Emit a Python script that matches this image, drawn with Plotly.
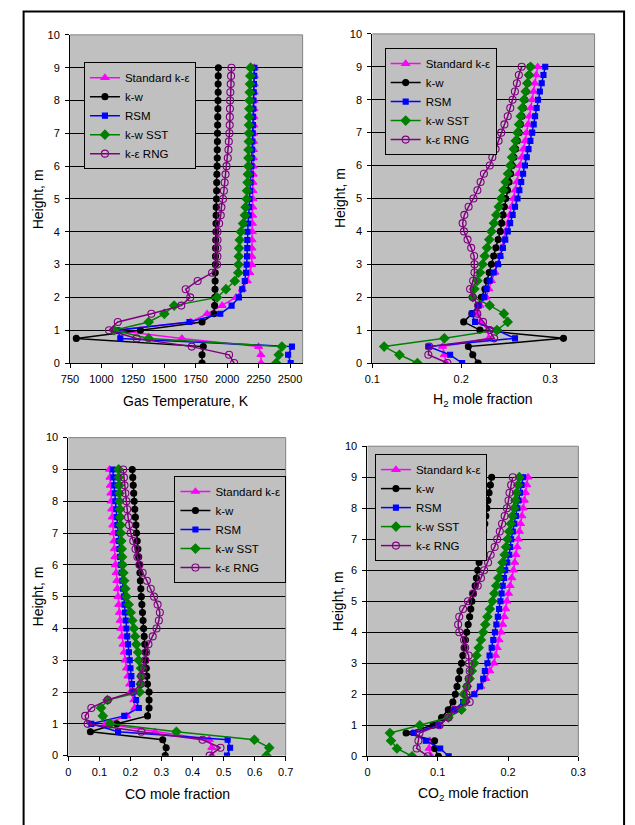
import plotly.graph_objects as go

# ---------------- data ----------------
HEIGHT = [0, 0.25, 0.5, 0.75, 1, 1.25, 1.5, 1.75, 2, 2.25, 2.5, 2.75, 3, 3.25, 3.5, 3.75,
          4, 4.25, 4.5, 4.75, 5, 5.25, 5.5, 5.75, 6, 6.25, 6.5, 6.75, 7, 7.25, 7.5, 7.75,
          8, 8.25, 8.5, 8.75, 9]

SERIES = ["Standard k-\u03b5", "k-w", "RSM", "k-w SST", "k-\u03b5 RNG"]

# Gas temperature, K
T_STD = [2270, 2268, 2250, 1640, 1105, 1710, 1840, 1960, 2070, 2120, 2160, 2180, 2195, 2196, 2197, 2198,
         2200, 2201, 2202, 2203, 2205, 2205, 2206, 2207, 2208, 2208, 2209, 2210, 2210, 2211, 2212, 2213,
         2214, 2215, 2215, 2216, 2216]
T_KW = [1800, 1800, 1810, 800, 1310, 1800, 1895, 1900, 1902, 1903, 1904, 1905, 1906, 1907, 1908, 1909,
        1910, 1911, 1912, 1913, 1915, 1916, 1917, 1918, 1920, 1921, 1921, 1922, 1923, 1924, 1925, 1926,
        1927, 1928, 1928, 1929, 1930]
T_RSM = [2505, 2485, 2515, 1150, 1128, 1700, 1945, 2035, 2093, 2120, 2140, 2150, 2155, 2158, 2160, 2160,
         2161, 2166, 2171, 2175, 2178, 2182, 2186, 2189, 2193, 2195, 2198, 2200, 2203, 2205, 2206, 2208,
         2209, 2211, 2213, 2215, 2217]
T_SST = [2390, 2410, 2435, 1375, 1100, 1375, 1500, 1578, 1920, 1990, 2060, 2088, 2090, 2093, 2095, 2100,
         2108, 2126, 2141, 2147, 2155, 2158, 2162, 2165, 2168, 2169, 2170, 2172, 2173, 2174, 2175, 2177,
         2178, 2180, 2182, 2184, 2186]
T_RNG = [2055, 2015, 1718, 1280, 1060, 1130, 1397, 1635, 1706, 1670, 1765, 1880, 1920, 1922, 1923, 1923,
         1923, 1936, 1949, 1954, 1967, 1974, 1980, 1987, 1995, 2005, 2010, 2013, 2018, 2020, 2021, 2022,
         2023, 2025, 2028, 2031, 2034]

# H2 mole fraction
H_STD = [0.183, 0.181, 0.179, 0.231, 0.230, 0.222, 0.218, 0.221, 0.228, 0.231, 0.234, 0.238, 0.241, 0.2435,
         0.2458, 0.248, 0.250, 0.2525, 0.2548, 0.257, 0.259, 0.2607, 0.2625, 0.2642, 0.266, 0.268, 0.270,
         0.272, 0.2736, 0.2752, 0.2767, 0.2783, 0.2798, 0.2813, 0.2828, 0.2843, 0.286]
H_KW = [0.219, 0.213, 0.208, 0.315, 0.221, 0.2028, 0.212, 0.219, 0.2227, 0.2266, 0.229, 0.2314, 0.234,
        0.2365, 0.239, 0.2415, 0.2439, 0.2454, 0.247, 0.2485, 0.250, 0.252, 0.2538, 0.2556, 0.2574, 0.2593,
        0.2612, 0.2631, 0.265, 0.2666, 0.2682, 0.2698, 0.2714, 0.273, 0.2747, 0.2761, 0.2775]
H_RSM = [0.201, 0.1875, 0.163, 0.2605, 0.240, 0.2156, 0.212, 0.2195, 0.226, 0.2285, 0.232, 0.2365, 0.2413,
         0.244, 0.2468, 0.2495, 0.2523, 0.255, 0.2578, 0.2605, 0.2633, 0.2654, 0.2675, 0.2696, 0.2717,
         0.2737, 0.2757, 0.2778, 0.2798, 0.2815, 0.2831, 0.2848, 0.2864, 0.2884, 0.2905, 0.2925, 0.2945]
H_SST = [0.1507, 0.1305, 0.1133, 0.181, 0.2402, 0.2523, 0.248, 0.232, 0.213, 0.2149, 0.2182, 0.2211, 0.224,
         0.2265, 0.229, 0.2315, 0.234, 0.2368, 0.2395, 0.2423, 0.245, 0.2475, 0.25, 0.2526, 0.2552, 0.2572,
         0.2592, 0.2613, 0.2633, 0.2651, 0.267, 0.2688, 0.2706, 0.2725, 0.2743, 0.2762, 0.278]
H_RNG = [0.1845, 0.163, 0.164, 0.237, 0.232, 0.2245, 0.218, 0.219, 0.213, 0.210, 0.2134, 0.2149, 0.2149,
         0.2145, 0.2112, 0.2071, 0.2031, 0.2016, 0.2035, 0.2083, 0.2138, 0.2182, 0.2218, 0.2255, 0.2321,
         0.235, 0.2387, 0.242, 0.245, 0.2486, 0.2523, 0.2552, 0.2578, 0.2604, 0.2626, 0.2648, 0.268]

# CO mole fraction
C_STD = [0.462, 0.462, 0.454, 0.279, 0.12, 0.188, 0.214, 0.211, 0.2, 0.1975, 0.192, 0.1875, 0.183, 0.1795,
         0.176, 0.1725, 0.169, 0.1668, 0.1645, 0.1623, 0.16, 0.158, 0.156, 0.1537, 0.1515, 0.15, 0.1483,
         0.1467, 0.145, 0.1432, 0.1415, 0.1397, 0.138, 0.1367, 0.1353, 0.134, 0.1327]
C_KW = [0.312, 0.315, 0.304, 0.071, 0.156, 0.255, 0.26, 0.26, 0.26, 0.2547, 0.2526, 0.251, 0.2495, 0.2477,
        0.246, 0.2442, 0.2424, 0.2405, 0.2387, 0.2368, 0.235, 0.2335, 0.2319, 0.2304, 0.2288, 0.2265,
        0.2241, 0.2218, 0.2194, 0.2176, 0.2157, 0.2139, 0.212, 0.2105, 0.2089, 0.2074, 0.2058]
C_RSM = [0.511, 0.521, 0.513, 0.16, 0.074, 0.18, 0.227, 0.218, 0.209, 0.205, 0.203, 0.2, 0.1975, 0.195,
         0.1924, 0.1897, 0.187, 0.1849, 0.1828, 0.1808, 0.1787, 0.1763, 0.1739, 0.1714, 0.169, 0.1667,
         0.1645, 0.1622, 0.16, 0.1579, 0.1558, 0.1536, 0.1515, 0.1494, 0.1473, 0.1451, 0.143]
C_SST = [0.638, 0.647, 0.599, 0.348, 0.135, 0.111, 0.105, 0.126, 0.23, 0.233, 0.235, 0.234, 0.2267, 0.2245,
         0.219, 0.215, 0.211, 0.206, 0.2006, 0.194, 0.187, 0.1835, 0.18, 0.1772, 0.1745, 0.1732, 0.172,
         0.1705, 0.169, 0.168, 0.167, 0.166, 0.165, 0.1643, 0.1635, 0.1628, 0.162]
C_RNG = [0.455, 0.49, 0.432, 0.235, 0.062, 0.054, 0.074, 0.127, 0.208, 0.233, 0.235, 0.24, 0.2476, 0.2508,
         0.258, 0.2717, 0.284, 0.2915, 0.2947, 0.2874, 0.2759, 0.2654, 0.2529, 0.2393, 0.2288, 0.2226,
         0.2163, 0.209, 0.2006, 0.1954, 0.1923, 0.1895, 0.187, 0.1835, 0.1808, 0.179, 0.1766]

# CO2 mole fraction
D_STD = [0.0905, 0.0877, 0.0886, 0.0646, 0.102, 0.1145, 0.1237, 0.138, 0.152, 0.1615, 0.1684, 0.174, 0.18,
         0.1823, 0.1846, 0.1873, 0.19, 0.1924, 0.1947, 0.1966, 0.1984, 0.2007, 0.203, 0.2054, 0.2077,
         0.2095, 0.2113, 0.213, 0.2146, 0.2162, 0.2178, 0.2197, 0.2215, 0.2231, 0.2247, 0.2266, 0.2284]
D_KW = [0.101, 0.0955, 0.0955, 0.055, 0.0933, 0.1055, 0.115, 0.1215, 0.125, 0.1274, 0.1297, 0.1315, 0.1338,
        0.1357, 0.1375, 0.1394, 0.1412, 0.1433, 0.1454, 0.147, 0.1486, 0.1509, 0.1532, 0.155, 0.1569,
        0.1588, 0.1606, 0.1622, 0.1638, 0.1654, 0.167, 0.1684, 0.1698, 0.1714, 0.173, 0.1749, 0.1767]
D_RSM = [0.1155, 0.1035, 0.083, 0.066, 0.101, 0.1152, 0.1237, 0.136, 0.152, 0.16, 0.1647, 0.167, 0.1707,
         0.1737, 0.1767, 0.179, 0.1813, 0.1834, 0.1855, 0.1873, 0.1892, 0.1908, 0.1924, 0.1943, 0.1961,
         0.1989, 0.2017, 0.203, 0.2044, 0.2067, 0.209, 0.2111, 0.2132, 0.215, 0.2169, 0.2192, 0.2215]
D_SST = [0.0635, 0.042, 0.0335, 0.032, 0.0745, 0.1152, 0.1338, 0.139, 0.137, 0.1417, 0.1454, 0.1486, 0.152,
         0.1551, 0.1583, 0.1615, 0.1647, 0.1677, 0.1707, 0.1742, 0.1777, 0.1805, 0.1832, 0.1862, 0.1892,
         0.1922, 0.1952, 0.1972, 0.1993, 0.2016, 0.204, 0.2063, 0.2086, 0.2105, 0.2123, 0.2142, 0.216]
D_RNG = [0.0858, 0.070, 0.0725, 0.074, 0.1025, 0.1152, 0.1237, 0.1454, 0.1407, 0.1417, 0.144, 0.1454,
         0.1444, 0.144, 0.139, 0.1375, 0.1306, 0.129, 0.1306, 0.136, 0.143, 0.15, 0.1569, 0.1615, 0.166,
         0.1716, 0.1753, 0.181, 0.1846, 0.1883, 0.1915, 0.1952, 0.1984, 0.2007, 0.2021, 0.2044, 0.2067]

Y_TICKS = [0, 1, 2, 3, 4, 5, 6, 7, 8, 9, 10]
X1_TICKS = [750, 1000, 1250, 1500, 1750, 2000, 2250, 2500]
X2_TICKS = [0.1, 0.2, 0.3]
X3_TICKS = [0, 0.1, 0.2, 0.3, 0.4, 0.5, 0.6, 0.7]
X4_TICKS = [0, 0.1, 0.2, 0.3]
X1_LABELS = ["750", "1000", "1250", "1500", "1750", "2000", "2250", "2500"]
X2_LABELS = ["0.1", "0.2", "0.3"]
X3_LABELS = ["0", "0.1", "0.2", "0.3", "0.4", "0.5", "0.6", "0.7"]
X4_LABELS = ["0", "0.1", "0.2", "0.3"]

X_TITLES = ["Gas Temperature, K", "H<sub>2</sub> mole fraction", "CO mole fraction",
            "CO<sub>2</sub> mole fraction"]

# ---------------- styling ----------------
W, H = 635, 825
FONT = "Liberation Sans, Arial, sans-serif"
STYLES = [
    dict(color="#FF00FF", symbol="triangle-up", size=7),
    dict(color="#000000", symbol="circle", size=6),
    dict(color="#0000FF", symbol="square", size=5),
    dict(color="#008000", symbol="diamond", size=7),
    dict(color="#800080", symbol="circle-open", size=7),
]


def fx(p):
    return p / W


def fy(p):
    return 1 - p / H


# plot areas in pixels: (left, right, top, bottom)
AREAS = [(62.7, 301.7, 29.3, 362.3), (373.3, 601.7, 28.3, 362.3),
         (61.0, 284.3, 438.0, 760.7), (368.3, 585.0, 446.7, 761.3)]
XRANGES = [[750, 2600], [0.1, 0.35], [0, 0.7], [0, 0.3]]
XTICKS = [(X1_TICKS, X1_LABELS), (X2_TICKS, X2_LABELS), (X3_TICKS, X3_LABELS), (X4_TICKS, X4_LABELS)]
LEGEND_POS = [(77.0, 57.0), (386.0, 42.7), (170.0, 477.0), (376.0, 454.7)]
XTITLE_POS = [(182, 401), (487, 400), (173, 800), (477, 800)]
YTITLE_POS = [(30, 196), (340, 195), (30, 599), (338, 604)]

DATA = [
    [T_STD, T_KW, T_RSM, T_SST, T_RNG],
    [H_STD, H_KW, H_RSM, H_SST, H_RNG],
    [C_STD, C_KW, C_RSM, C_SST, C_RNG],
    [D_STD, D_KW, D_RSM, D_SST, D_RNG],
]

fig = go.Figure()
layout = dict(
    width=W, height=H, margin=dict(l=0, r=0, t=0, b=0),
    paper_bgcolor="white", plot_bgcolor="#C0C0C0",
    font=dict(family=FONT, size=11, color="black"),
    showlegend=True, shapes=[], annotations=[],
)

for i in range(4):
    n = "" if i == 0 else str(i + 1)
    xa, ya = "x" + n, "y" + n
    leg = "legend" + n
    for j, name in enumerate(SERIES):
        st = STYLES[j]
        fig.add_trace(go.Scatter(
            x=DATA[i][j], y=HEIGHT, mode="lines+markers", name=name,
            xaxis=xa, yaxis=ya, legend=leg,
            line=dict(color=st["color"], width=1.5),
            marker=dict(symbol=st["symbol"], size=st["size"], color=st["color"],
                        line=dict(color=st["color"], width=1.1)),
        ))
    l, r, t, b = AREAS[i]
    layout["xaxis" + n] = dict(
        domain=[fx(l), fx(r)], range=XRANGES[i], anchor=ya,
        tickvals=XTICKS[i][0], ticktext=XTICKS[i][1],
        showgrid=False, zeroline=False, showline=True, linecolor="black", linewidth=1,
        ticks="outside", ticklen=4, tickcolor="black", tickwidth=1,
        tickfont=dict(size=11, family=FONT), ticklabelstandoff=2,
    )
    layout["yaxis" + n] = dict(
        domain=[fy(b), fy(t)], range=[0, 10], anchor=xa,
        tickvals=Y_TICKS, showgrid=True, gridcolor="black", gridwidth=1,
        zeroline=False, showline=True, linecolor="black", linewidth=1,
        ticks="outside", ticklen=4, tickcolor="black", tickwidth=1,
        tickfont=dict(size=11, family=FONT), ticklabelstandoff=3,
    )
    lx, ly = LEGEND_POS[i]
    layout[leg] = dict(
        x=fx(lx), y=fy(ly), xanchor="left", yanchor="top",
        bgcolor="#C0C0C0", bordercolor="black", borderwidth=1,
        font=dict(size=11.5, family=FONT, color="black"),
        itemwidth=30, tracegroupgap=0,
    )
    # gray top/right border of plot area
    layout["shapes"].append(dict(
        type="path", xref=xa + " domain", yref=ya + " domain",
        path="M 0 1 L 1 1 L 1 0", line=dict(color="#808080", width=1), layer="above",
    ))
    tx, ty = XTITLE_POS[i]
    layout["annotations"].append(dict(
        x=fx(tx), y=fy(ty), xref="paper", yref="paper", text=X_TITLES[i],
        showarrow=False, xanchor="center", yanchor="middle",
        font=dict(size=14, family=FONT, color="black"),
    ))
    hx, hy = YTITLE_POS[i]
    layout["annotations"].append(dict(
        x=fx(hx), y=fy(hy), xref="paper", yref="paper", text="Height, m",
        showarrow=False, xanchor="center", yanchor="middle", textangle=-90,
        font=dict(size=14, family=FONT, color="black"),
    ))

# outer frame
layout["shapes"].append(dict(
    type="rect", xref="paper", yref="paper",
    x0=fx(15), x1=fx(632), y0=-0.02, y1=fy(5.7),
    line=dict(color="black", width=2), layer="above",
))

fig.update_layout(**layout)
fig.write_html(
    "out.html",
    config={"displayModeBar": False, "staticPlot": True},
    post_script=("document.body.style.margin='0';"
                 "document.documentElement.style.overflow='hidden';"
                 "document.body.style.overflow='hidden';"),
)
